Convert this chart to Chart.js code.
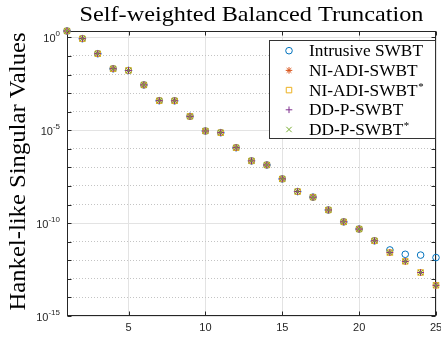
<!DOCTYPE html>
<html>
<head>
<meta charset="utf-8">
<script src="https://cdn.jsdelivr.net/npm/chart.js@4.4.1/dist/chart.umd.min.js"></script>
<style>
  html, body { margin: 0; padding: 0; background: #fff; }
</style>
</head>
<body>
<canvas id="hsv" width="441" height="338"></canvas>
<script>
// reduced order index
const orders = [1, 2, 3, 4, 5, 6, 7, 8, 9, 10, 11, 12, 13, 14, 15, 16, 17, 18, 19, 20, 21, 22, 23, 24, 25];

// Hankel-like singular values per method
const intrusiveSWBT = [2.2, 0.85, 0.132, 0.0204, 0.0166, 2.75e-3, 3.9e-4, 3.85e-4, 5.6e-5, 9.1e-6,
  7.4e-6, 1.15e-6, 2.24e-7, 1.35e-7, 2.4e-8, 5.0e-9, 2.5e-9, 5.1e-10, 1.17e-10, 4.8e-11,
  1.12e-11, 3.6e-12, 2.1e-12, 1.9e-12, 1.4e-12];
const niAdiSWBT = [2.2, 0.85, 0.132, 0.0204, 0.0166, 2.75e-3, 3.9e-4, 3.85e-4, 5.6e-5, 9.1e-6,
  7.4e-6, 1.15e-6, 2.24e-7, 1.35e-7, 2.4e-8, 5.0e-9, 2.5e-9, 5.1e-10, 1.17e-10, 4.8e-11,
  1.12e-11, 2.6e-12, 8.7e-13, 2.2e-13, 4.5e-14];
const niAdiSWBTstar = [2.2, 0.85, 0.132, 0.0204, 0.0166, 2.75e-3, 3.9e-4, 3.85e-4, 5.6e-5, 9.1e-6,
  7.4e-6, 1.15e-6, 2.24e-7, 1.35e-7, 2.4e-8, 5.0e-9, 2.5e-9, 5.1e-10, 1.17e-10, 4.8e-11,
  1.12e-11, 2.6e-12, 8.7e-13, 2.2e-13, 4.5e-14];
const ddpSWBT = [2.2, 0.85, 0.132, 0.0204, 0.0166, 2.75e-3, 3.9e-4, 3.85e-4, 5.6e-5, 9.1e-6,
  7.4e-6, 1.15e-6, 2.24e-7, 1.35e-7, 2.4e-8, 5.0e-9, 2.5e-9, 5.1e-10, 1.17e-10, 4.8e-11,
  1.12e-11, 2.6e-12, 8.7e-13, 2.2e-13, 4.5e-14];
const ddpSWBTstar = [2.2, 0.85, 0.132, 0.0204, 0.0166, 2.75e-3, 3.9e-4, 3.85e-4, 5.6e-5, 9.1e-6,
  7.4e-6, 1.15e-6, 2.24e-7, 1.35e-7, 2.4e-8, 5.0e-9, 2.5e-9, 5.1e-10, 1.17e-10, 4.8e-11,
  1.12e-11, 2.6e-12, 8.7e-13, 2.2e-13, 4.5e-14];

const seriesLabels = ['Intrusive SWBT', 'NI-ADI-SWBT', 'NI-ADI-SWBT*', 'DD-P-SWBT', 'DD-P-SWBT*'];
const xTicks = [5, 10, 15, 20, 25];
const yDecades = [0, -1, -2, -3, -4, -5, -6, -7, -8, -9, -10, -11, -12, -13, -14, -15];
const yLabelDecades = [0, -5, -10, -15];

const titleText = 'Self-weighted Balanced Truncation';
const yTitleText = 'Hankel-like Singular Values';

const SERIF = '"Liberation Serif", "Times New Roman", serif';
const SANS = '"Liberation Sans", Arial, sans-serif';
const AXIS_COLOR = '#262626';

function series(label, values, style, color, radius, order) {
  return {
    label: label,
    data: values.map((v, i) => ({x: orders[i], y: v})),
    pointStyle: style,
    pointRadius: radius,
    pointHoverRadius: radius,
    pointBorderWidth: 1,
    pointHoverBorderWidth: 1,
    borderColor: color,
    backgroundColor: 'rgba(0,0,0,0)',
    showLine: false,
    clip: false,
    order: order,
  };
}

const datasets = [
  series(seriesLabels[0], intrusiveSWBT, 'circle', '#0072BD', 3.3, 4),
  series(seriesLabels[1], niAdiSWBT, 'star', '#D95319', 3.3, 3),
  series(seriesLabels[2], niAdiSWBTstar, 'rect', '#EDB120', 3.9, 2),
  series(seriesLabels[3], ddpSWBT, 'cross', '#7E2F8E', 3.3, 1),
  series(seriesLabels[4], ddpSWBTstar, 'crossRot', '#77AC30', 3.8, 0),
];

const isMajor = (tick) => {
  if (!tick) return false;
  const e = Math.round(Math.log10(tick.value));
  return e % 5 === 0;
};

// draws text squeezed/stretched to a given width
function fitText(ctx, text, x, y, width) {
  const w = ctx.measureText(text).width;
  ctx.save();
  ctx.translate(x, y);
  ctx.scale(width / w, 1);
  ctx.fillText(text, 0, 0);
  ctx.restore();
}

function drawMarker(ctx, opts, x, y) {
  ctx.save();
  ctx.strokeStyle = opts.borderColor;
  ctx.fillStyle = 'rgba(0,0,0,0)';
  ctx.lineWidth = opts.borderWidth;
  Chart.helpers.drawPoint(ctx, opts, x, y);
  ctx.restore();
}

const framePlugin = {
  id: 'frame',
  beforeDatasetsDraw(chart) {
    const {ctx, chartArea: a, scales} = chart;
    const l = Math.round(a.left) + 0.5, r = Math.round(a.right) - 0.5;
    const t = Math.round(a.top) + 0.5, b = Math.round(a.bottom) - 0.5;
    ctx.save();
    ctx.strokeStyle = AXIS_COLOR;
    ctx.lineWidth = 1;
    ctx.strokeRect(l, t, r - l, b - t);
    ctx.beginPath();
    const tl = 4;
    xTicks.forEach(v => {
      const px = Math.round(scales.x.getPixelForValue(v)) + 0.5;
      ctx.moveTo(px, b); ctx.lineTo(px, b - tl);
      ctx.moveTo(px, t); ctx.lineTo(px, t + tl);
    });
    yDecades.forEach(e => {
      const py = Math.round(scales.y.getPixelForValue(Math.pow(10, e))) + 0.5;
      ctx.moveTo(l, py); ctx.lineTo(l + tl, py);
      ctx.moveTo(r, py); ctx.lineTo(r - tl, py);
    });
    ctx.stroke();
    ctx.restore();
  },
  afterDraw(chart) {
    const {ctx, chartArea: a, scales} = chart;
    ctx.save();

    // x tick labels
    ctx.fillStyle = AXIS_COLOR;
    ctx.font = '11px ' + SANS;
    ctx.textAlign = 'center';
    ctx.textBaseline = 'middle';
    xTicks.forEach(v => ctx.fillText(String(v), scales.x.getPixelForValue(v), a.bottom + 12));

    // y tick labels, 10 with raised exponent
    ctx.textAlign = 'left';
    ctx.textBaseline = 'alphabetic';
    yLabelDecades.forEach(e => {
      const py = scales.y.getPixelForValue(Math.pow(10, e));
      ctx.font = '11px ' + SANS;
      const wb = ctx.measureText('10').width;
      ctx.font = '8px ' + SANS;
      const ex = String(e);
      const we = ctx.measureText(ex).width;
      const x0 = a.left - 7 - we - wb;
      ctx.font = '11px ' + SANS;
      ctx.fillText('10', x0, py + 5);
      ctx.font = '8px ' + SANS;
      ctx.fillText(ex, x0 + wb, py - 1);
    });

    // title
    ctx.fillStyle = '#000';
    ctx.textAlign = 'center';
    ctx.font = '21px ' + SERIF;
    fitText(ctx, titleText, (a.left + a.right) / 2, 21, 344);

    // y axis title
    ctx.save();
    ctx.translate(25, (a.top + a.bottom) / 2 - 2);
    ctx.rotate(-Math.PI / 2);
    ctx.font = '23px ' + SERIF;
    fitText(ctx, yTitleText, 0, 0, 278);
    ctx.restore();

    // legend box
    const box = {x: 269.5, y: 40.5, w: 166, h: 98};
    ctx.fillStyle = '#fff';
    ctx.fillRect(box.x, box.y, box.w, box.h);
    ctx.strokeStyle = '#333';
    ctx.lineWidth = 1;
    ctx.strokeRect(box.x, box.y, box.w, box.h);

    ctx.font = '17.5px ' + SERIF;
    const sx = 114 / ctx.measureText(seriesLabels[0]).width;
    chart.data.datasets.forEach((ds, i) => {
      const y = 50.7 + i * 19.7;
      const opts = chart.getDatasetMeta(i).data[0].options;
      drawMarker(ctx, opts, 289, y);
      const star = ds.label.endsWith('*');
      const main = star ? ds.label.slice(0, -1) : ds.label;
      ctx.save();
      ctx.fillStyle = '#000';
      ctx.textAlign = 'left';
      ctx.translate(309, y + 5.5);
      ctx.scale(sx, 1);
      ctx.font = '17.5px ' + SERIF;
      ctx.fillText(main, 0, 0);
      if (star) {
        const w = ctx.measureText(main).width;
        ctx.font = '11px ' + SERIF;
        ctx.fillText('*', w + 0.5, -6);
      }
      ctx.restore();
    });

    ctx.restore();
  },
};

new Chart(document.getElementById('hsv'), {
  type: 'scatter',
  data: {datasets: datasets},
  options: {
    responsive: false,
    animation: false,
    events: [],
    layout: {padding: {left: 67, right: 5, top: 31, bottom: 22}},
    plugins: {legend: {display: false}, tooltip: {enabled: false}},
    scales: {
      x: {
        type: 'linear',
        min: 1,
        max: 25,
        afterBuildTicks: (scale) => { scale.ticks = xTicks.map(v => ({value: v})); },
        ticks: {display: false},
        grid: {color: '#e3e3e3', lineWidth: 1, drawTicks: false},
        border: {display: false},
      },
      y: {
        type: 'logarithmic',
        min: 1e-15,
        max: intrusiveSWBT[0],
        afterBuildTicks: (scale) => {
          scale.ticks = yDecades.map(e => ({value: Math.pow(10, e)}));
        },
        ticks: {display: false},
        grid: {
          color: (c) => isMajor(c.tick) ? '#e3e3e3' : '#c4c4c4',
          lineWidth: 1,
          drawTicks: false,
        },
        border: {
          display: false,
          dash: (c) => (c.tick && !isMajor(c.tick)) ? [1, 2] : [],
        },
      },
    },
  },
  plugins: [framePlugin],
});
</script>
</body>
</html>
